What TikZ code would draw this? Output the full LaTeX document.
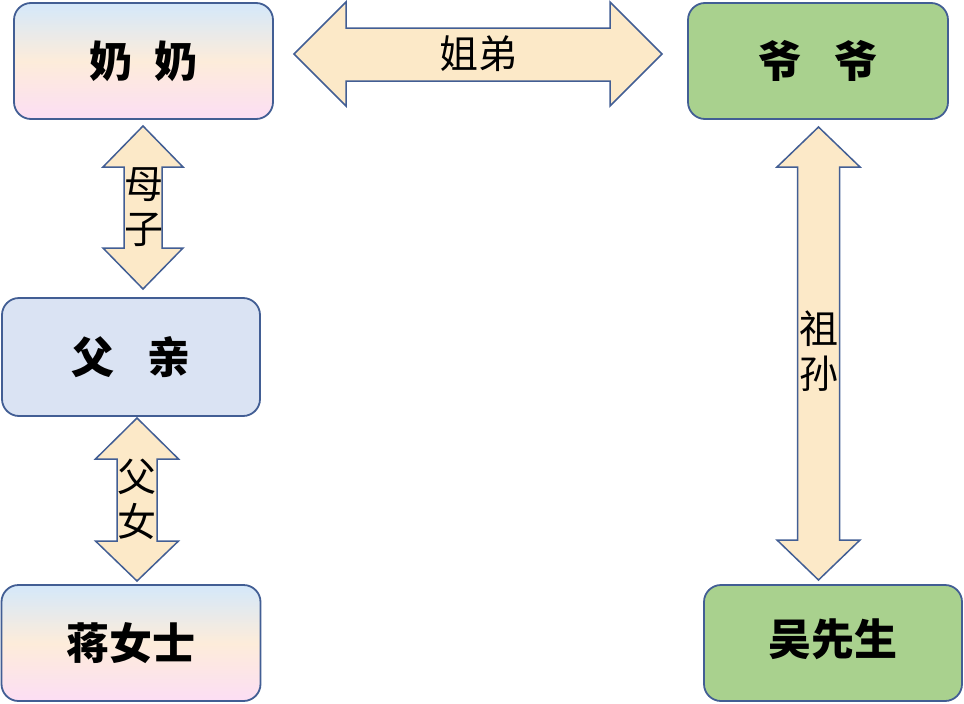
\documentclass[tikz,border=0pt]{standalone}
\usepackage{fontspec}
\setmainfont{Noto Sans CJK SC}
\definecolor{bord}{RGB}{66,94,148}
\definecolor{afill}{RGB}{252,233,200}
\definecolor{gfill}{RGB}{169,209,142}
\definecolor{bfill}{RGB}{218,227,243}
\definecolor{gtop}{RGB}{212,232,250}
\definecolor{gmid}{RGB}{253,236,218}
\definecolor{gbot}{RGB}{252,222,244}
\begin{document}
\begin{tikzpicture}[x=1pt,y=-1pt,
  box/.style={draw=bord,line width=1.8pt,rounded corners=17pt,inner sep=0pt,
    font=\fontsize{43}{43}\selectfont\bfseries,text height=37.8pt,text depth=5.2pt},
  gradbox/.style={box,top color=gtop,bottom color=gbot,middle color=gmid},
  greenbox/.style={box,fill=gfill},
  bluebox/.style={box,fill=bfill},
  barrow/.style={draw=bord,fill=afill,line width=1.5pt,line join=miter},
  lab/.style={inner sep=0pt,align=center,font=\fontsize{39}{45}\selectfont}]
\useasboundingbox (0,0) rectangle (964,704);
% boxes
\node[gradbox,minimum width=259pt,minimum height=116pt] (nai) at (143.5,61) {奶\hspace{23pt}奶};
\node[greenbox,minimum width=260pt,minimum height=116pt] (ye) at (818,61) {爷\hspace{33pt}爷};
\node[bluebox,minimum width=258pt,minimum height=118pt] (fu) at (131,357) {父\hspace{33pt}亲};
\node[gradbox,minimum width=259pt,minimum height=116pt] (jiang) at (131,643) {蒋女士};
\node[greenbox,minimum width=258pt,minimum height=116pt] (wu) at (833,643) {\raisebox{4pt}{吴先生}};
% horizontal arrow
\draw[barrow] (294,54) -- (346,2) -- (346,28) -- (610,28) -- (610,2) -- (662,54)
  -- (610,106) -- (610,81) -- (346,81) -- (346,106) -- cycle;
\node[lab] (jd) at (478,54) {姐弟};
% vertical arrow macro
\newcommand\vblock[7]{%
  \draw[barrow] (#1,#2) -- ({#1+#6},#3) -- ({#1+#7},#3) -- ({#1+#7},#4) -- ({#1+#6},#4)
    -- (#1,#5) -- ({#1-#6},#4) -- ({#1-#7},#4) -- ({#1-#7},#3) -- ({#1-#6},#3) -- cycle;}
\vblock{143}{126}{167}{248}{289}{40}{19}
\node[lab] (mz) at (144,207.5) {母\\子};
\vblock{137}{418}{459}{541}{581}{41.5}{20}
\node[lab] (fn) at (137,499) {父\\女};
\vblock{818.5}{127}{167}{540}{580}{41.5}{21}
\node[lab] (zs) at (819,351) {祖\\孙};
\end{tikzpicture}
\end{document}
